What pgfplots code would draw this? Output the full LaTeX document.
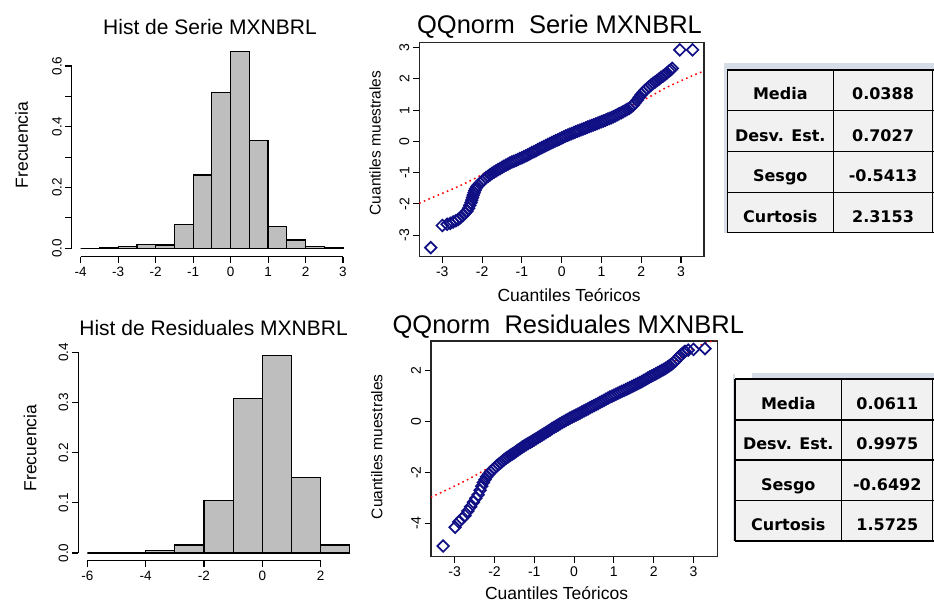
\documentclass[border=0pt]{standalone}
\usepackage{pgfplots}
\pgfplotsset{compat=1.18}
\usepackage{fontspec}
\setmainfont{Liberation Sans}
\newfontfamily\tabfont{DejaVu Sans}

\definecolor{histgray}{RGB}{190,190,190}
\definecolor{qqblue}{RGB}{16,16,132}
\definecolor{cellbg}{RGB}{241,241,241}
\definecolor{tabshadow}{RGB}{214,221,231}

\newcommand\fs[1]{\fontsize{#1bp}{#1bp}\selectfont}

\pgfplotsset{
  every axis title shift=0pt,
  rbase/.style={
    scale only axis,
    tick align=outside,
    major tick length=6.5bp,
    minor tick length=6.5bp,
    every tick/.style={black, line width=1.1bp},
    /pgf/number format/assume math mode=true,
    yticklabel style={rotate=90, anchor=south},
    title style={font=\fs{21}, anchor=center},
    xlabel style={font=\fs{17.5}, anchor=center},
    ylabel style={font=\fs{17.5}, anchor=center},
  },
  rhist/.style={
    rbase,
    axis lines*=left,
    clip=false,
    axis line style={line width=1.2bp},
    tick label style={font=\fs{13.5}},
  },
  rqq/.style={
    rbase,
    axis line style={line width=1.4bp, black!85},
    xtick pos=left, ytick pos=left,
    tick label style={font=\fs{14}},
    title style={font=\fs{25.5}},
    ylabel style={font=\fs{15.5}},
  },
  qqpts/.style={only marks, mark=square, mark size=4.1bp,
    mark options={rotate=45, draw=qqblue, line width=1.7bp, fill=none}},
  qqline/.style={no marks, smooth, red, line width=1.5bp,
    dash pattern=on 1.6bp off 3.4bp},
}

\begin{document}
\begin{tikzpicture}
\useasboundingbox (0,0) rectangle (934bp,602bp);

% ---------------- Histogram of the series ----------------
\begin{axis}[rhist,
  at={(80.7bp,353.7bp)}, anchor=south west,
  width=262.3bp, height=182.3bp,
  xmin=-4, xmax=3, ymin=0, ymax=0.6,
  axis x line shift=8.4bp, axis y line shift=9bp,
  xtick={-4,-3,...,3},
  ytick={0,0.2,0.4,0.6}, minor ytick={0.1,0.3,0.5},
  yticklabel style={/pgf/number format/.cd, fixed, fixed zerofill, precision=1},
  title={Hist de Serie MXNBRL},
  title style={at={(axis description cs:0.493,1.214)}, anchor=center},
  ylabel={Frecuencia},
  ylabel style={at={(axis description cs:-0.225,0.567)}},
]
\addplot[ybar interval, fill=histgray, draw=black, line width=1.2bp] coordinates {
  (-4.0,0.000) (-3.5,0.001) (-3.0,0.005) (-2.5,0.013) (-2.0,0.011)
  (-1.5,0.079) (-1.0,0.241) (-0.5,0.513) (0.0,0.647) (0.5,0.354)
  (1.0,0.072) (1.5,0.027) (2.0,0.005) (2.5,0.001) (3.0,0.001)
};
\end{axis}

% ---------------- Histogram of the residuals ----------------
\begin{axis}[rhist,
  at={(87.3bp,49bp)}, anchor=south west,
  width=233.4bp, height=200.7bp,
  xmin=-6, xmax=2, ymin=0, ymax=0.4,
  axis x line shift=7.7bp, axis y line shift=9bp,
  xtick={-6,-4,...,2},
  ytick={0,0.1,...,0.4},
  yticklabel style={/pgf/number format/.cd, fixed, fixed zerofill, precision=1},
  title={Hist de Residuales MXNBRL},
  title style={at={(axis description cs:0.541,1.121)}, anchor=center},
  ylabel={Frecuencia},
  ylabel style={at={(axis description cs:-0.2455,0.523)}},
]
\addplot[ybar interval, fill=histgray, draw=black, line width=1.2bp] coordinates {
  (-6,0.000) (-5,0.001) (-4,0.005) (-3,0.016) (-2,0.105)
  (-1,0.308) (0,0.393) (1,0.150) (2,0.016) (3,0.016)
};
\end{axis}

% ---------------- Normal QQ plot of the series ----------------
\begin{axis}[rqq,
  at={(419.3bp,345.3bp)}, anchor=south west,
  width=284.7bp, height=214bp,
  xmin=-3.578, xmax=3.578, ymin=-3.69, ymax=3.16,
  xtick={-3,-2,...,3}, ytick={-3,-2,...,3},
  title={QQnorm\ \ Serie MXNBRL},
  title style={at={(axis description cs:0.4925,1.073)}, anchor=center},
  xlabel={Cuantiles Teóricos},
  xlabel style={at={(axis description cs:0.526,-0.179)}},
  ylabel={Cuantiles muestrales},
  ylabel style={at={(axis description cs:-0.1556,0.531)}},
]
\addplot[qqpts] table {
-3.29 -3.40
-3.00 -2.69
-2.88 -2.65
-2.80 -2.62
-2.73 -2.58
-2.66 -2.54
-2.60 -2.50
-2.54 -2.44
-2.48 -2.37
-2.43 -2.30
-2.38 -2.23
-2.34 -2.14
-2.31 -2.05
-2.28 -1.96
-2.26 -1.88
-2.24 -1.80
-2.22 -1.72
-2.20 -1.64
-2.18 -1.57
-2.16 -1.51
-2.13 -1.45
-2.10 -1.40
-2.05 -1.34
-2.00 -1.28
-1.95 -1.22
-1.90 -1.16
-1.85 -1.115
-1.80 -1.07
-1.75 -1.025
-1.70 -0.98
-1.65 -0.94
-1.60 -0.905
-1.55 -0.87
-1.50 -0.83
-1.45 -0.795
-1.40 -0.76
-1.35 -0.725
-1.30 -0.69
-1.25 -0.66
-1.20 -0.635
-1.15 -0.61
-1.10 -0.58
-1.05 -0.55
-1.00 -0.52
-0.95 -0.49
-0.90 -0.46
-0.85 -0.43
-0.80 -0.395
-0.75 -0.36
-0.70 -0.33
-0.65 -0.30
-0.60 -0.265
-0.55 -0.23
-0.50 -0.20
-0.45 -0.17
-0.40 -0.135
-0.35 -0.10
-0.30 -0.07
-0.25 -0.04
-0.20 -0.01
-0.15 0.02
-0.10 0.05
-0.05 0.08
0.00 0.11
0.05 0.14
0.10 0.17
0.15 0.20
0.20 0.225
0.25 0.25
0.30 0.28
0.35 0.305
0.40 0.33
0.45 0.355
0.50 0.38
0.55 0.405
0.60 0.43
0.65 0.455
0.70 0.48
0.75 0.505
0.80 0.53
0.85 0.555
0.90 0.58
0.95 0.605
1.00 0.63
1.05 0.655
1.10 0.68
1.15 0.71
1.20 0.735
1.25 0.76
1.30 0.79
1.35 0.82
1.40 0.855
1.45 0.89
1.50 0.92
1.55 0.955
1.60 0.99
1.65 1.025
1.70 1.06
1.75 1.11
1.80 1.16
1.85 1.24
1.90 1.32
1.95 1.41
2.00 1.50
2.05 1.57
2.10 1.64
2.15 1.695
2.20 1.75
2.25 1.805
2.30 1.86
2.35 1.905
2.40 1.95
2.45 2.00
2.50 2.05
2.55 2.095
2.60 2.14
2.65 2.195
2.70 2.25
2.74 2.29
2.78 2.34
2.97 2.93
3.29 2.93
};
\addplot[qqline] table {
-3.58 -1.98
-3.11 -1.72
-2.61 -1.45
-2.10 -1.13
-1.60 -0.76
-1.10 -0.44
-0.60 -0.20
-0.09 0.05
0.54 0.36
1.38 0.92
2.14 1.38
2.64 1.73
3.39 2.16
3.58 2.24
};
\end{axis}

% ---------------- Normal QQ plot of the residuals ----------------
\begin{axis}[rqq,
  at={(431bp,45.3bp)}, anchor=south west,
  width=286.7bp, height=215.7bp,
  xmin=-3.596, xmax=3.61, ymin=-5.32, ymax=3.18,
  xtick={-3,-2,...,3}, ytick={-4,-2,...,2},
  title={QQnorm\ \ Residuales MXNBRL},
  title style={at={(axis description cs:0.479,1.066)}, anchor=center},
  xlabel={Cuantiles Teóricos},
  xlabel style={at={(axis description cs:0.438,-0.167)}},
  ylabel={Cuantiles muestrales},
  ylabel style={at={(axis description cs:-0.189,0.51)}},
]
\addplot[qqpts] table {
-3.29 -4.90
-2.99 -4.16
-2.90 -3.95
-2.82 -3.82
-2.74 -3.70
-2.67 -3.52
-2.60 -3.35
-2.53 -3.17
-2.47 -3.02
-2.41 -2.88
-2.36 -2.70
-2.32 -2.54
-2.28 -2.40
-2.24 -2.28
-2.20 -2.17
-2.15 -2.07
-2.10 -1.98
-2.05 -1.905
-2.00 -1.83
-1.95 -1.755
-1.90 -1.68
-1.85 -1.62
-1.80 -1.56
-1.75 -1.49
-1.70 -1.43
-1.65 -1.375
-1.60 -1.325
-1.55 -1.27
-1.50 -1.22
-1.45 -1.165
-1.40 -1.11
-1.35 -1.055
-1.30 -1.00
-1.25 -0.95
-1.20 -0.905
-1.15 -0.855
-1.10 -0.81
-1.05 -0.76
-1.00 -0.715
-0.95 -0.665
-0.90 -0.62
-0.85 -0.57
-0.80 -0.52
-0.75 -0.47
-0.70 -0.42
-0.65 -0.37
-0.60 -0.32
-0.55 -0.27
-0.50 -0.22
-0.45 -0.175
-0.40 -0.125
-0.35 -0.08
-0.30 -0.03
-0.25 0.01
-0.20 0.055
-0.15 0.10
-0.10 0.14
-0.05 0.18
0.00 0.22
0.05 0.26
0.10 0.30
0.15 0.34
0.20 0.385
0.25 0.425
0.30 0.47
0.35 0.51
0.40 0.55
0.45 0.59
0.50 0.63
0.55 0.675
0.60 0.715
0.65 0.76
0.70 0.80
0.75 0.84
0.80 0.885
0.85 0.925
0.90 0.97
0.95 1.005
1.00 1.045
1.05 1.08
1.10 1.12
1.15 1.155
1.20 1.195
1.25 1.23
1.30 1.27
1.35 1.305
1.40 1.345
1.45 1.38
1.50 1.42
1.55 1.46
1.60 1.50
1.65 1.54
1.70 1.58
1.75 1.625
1.80 1.67
1.85 1.715
1.90 1.76
1.95 1.80
2.00 1.845
2.05 1.885
2.10 1.93
2.15 1.97
2.20 2.015
2.25 2.055
2.30 2.10
2.35 2.155
2.40 2.21
2.45 2.26
2.50 2.33
2.55 2.40
2.60 2.49
2.65 2.58
2.70 2.65
2.75 2.72
2.79 2.77
2.87 2.82
3.00 2.85
3.29 2.88
};
\addplot[qqline] table {
-3.60 -2.98
-3.10 -2.61
-2.60 -2.22
-2.10 -1.77
-1.60 -1.31
-1.10 -0.90
-0.60 -0.50
-0.10 -0.06
0.50 0.50
1.30 1.15
2.15 1.97
3.00 2.88
3.60 3.25
};
\end{axis}

% ---------------- Summary statistics tables ----------------
\begin{scope}[x=1bp, y=1bp, line width=1.3bp]
  % series
  \fill[tabshadow] (723.5,539) rectangle (934,369.3);
  \fill[cellbg] (727.3,532) rectangle (934,369.3);
  \draw (727.3,532) -- (934,532);
  \draw (727.3,369.3) -- (934,369.3);
  \draw (727.3,532) -- (727.3,369.3);
  \draw (833.3,532) -- (833.3,369.3);
  \draw (932.7,532) -- (932.7,369.3);
  \draw (727.3,491.3) -- (934,491.3);
  \draw (727.3,450.3) -- (934,450.3);
  \draw (727.3,409.7) -- (934,409.7);
  \begin{scope}[every node/.style={font=\tabfont\bfseries\fs{16}, anchor=base, inner sep=0pt}]
    \node at (780.3,502)   {Media};
    \node at (780.3,460.8) {Desv. Est.};
    \node at (780.3,420.2) {Sesgo};
    \node at (780.3,379.6) {Curtosis};
    \node at (883,502)   {0.0388};
    \node at (883,460.8) {0.7027};
    \node at (883,420.2) {-0.5413};
    \node at (883,379.6) {2.3153};
  \end{scope}
  % residuals
  \fill[tabshadow] (751.7,229) rectangle (934,223);
  \fill[tabshadow] (732.5,228) rectangle (735,61);
  \fill[cellbg] (735,223) rectangle (934,61);
  \draw (735,223) -- (934,223);
  \draw (735,61) -- (934,61);
  \draw (735,223) -- (735,61);
  \draw (841.7,223) -- (841.7,61);
  \draw (932.7,223) -- (932.7,61);
  \draw (735,182) -- (934,182);
  \draw (735,142) -- (934,142);
  \draw (735,101.3) -- (934,101.3);
  \begin{scope}[every node/.style={font=\tabfont\bfseries\fs{16}, anchor=base, inner sep=0pt}]
    \node at (788.3,192.3) {Media};
    \node at (788.3,152.3) {Desv. Est.};
    \node at (788.3,111.8) {Sesgo};
    \node at (788.3,71.5)  {Curtosis};
    \node at (887.3,192.3) {0.0611};
    \node at (887.3,152.3) {0.9975};
    \node at (887.3,111.8) {-0.6492};
    \node at (887.3,71.5)  {1.5725};
  \end{scope}
\end{scope}
\end{tikzpicture}
\end{document}
